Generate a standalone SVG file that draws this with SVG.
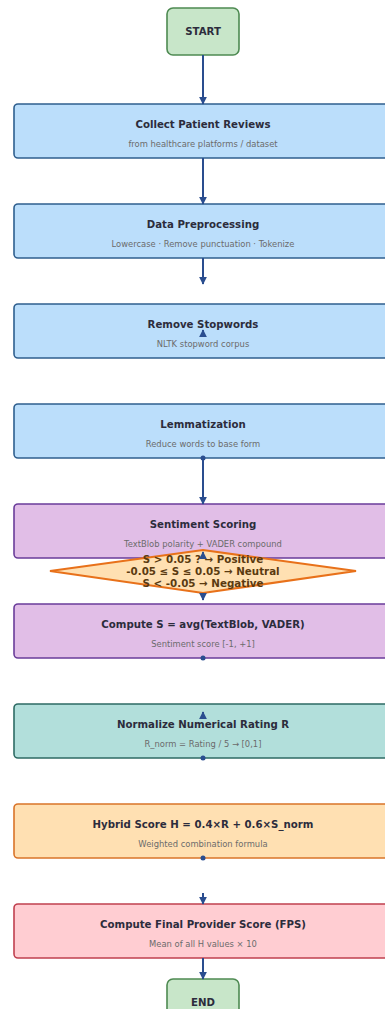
<svg xmlns="http://www.w3.org/2000/svg" width="385" height="1009" viewBox="0 0 385 1009">
<defs>
<style>
.t{font-family:"DejaVu Sans",sans-serif;font-weight:bold;font-size:10.2px;fill:#2c2c3c;text-anchor:middle}
.s{font-family:"DejaVu Sans",sans-serif;font-size:8.4px;fill:#6b6b6b;text-anchor:middle}
.d{font-family:"DejaVu Sans",sans-serif;font-weight:bold;font-size:10.3px;fill:#5a3a10;text-anchor:middle}
.blue{fill:#bbdefb;stroke:#2f5f8f;stroke-width:1.6}
.purple{fill:#e1bee7;stroke:#6a3d9a;stroke-width:1.6}
.teal{fill:#b2dfdb;stroke:#2e6b64;stroke-width:1.6}
.orange{fill:#ffe0b2;stroke:#d9742a;stroke-width:1.6}
.pink{fill:#ffcdd2;stroke:#c0404f;stroke-width:1.6}
.green{fill:#c8e6c9;stroke:#4e8a52;stroke-width:1.6}
.c{stroke:#2a4d8f;stroke-width:2;fill:none}
.dot{fill:#2a4d8f}
</style>
<marker id="ah" viewBox="0 0 10 10" refX="9" refY="5" markerWidth="4" markerHeight="4" orient="auto">
<path d="M0,0 L10,5 L0,10 z" fill="#2a4d8f"/>
</marker>
</defs>
<rect width="385" height="1009" fill="#ffffff"/>

<g id="start">
<rect class="green" x="167" y="8" width="72" height="47" rx="6"/>
<text class="t" x="203" y="35">START</text>
</g>
<g id="collect">
<rect class="blue" x="14" y="104" width="378" height="54" rx="4"/>
<text class="t" x="203" y="128">Collect Patient Reviews</text>
<text class="s" x="203" y="147">from healthcare platforms / dataset</text>
</g>
<g id="preprocess">
<rect class="blue" x="14" y="204" width="378" height="54" rx="4"/>
<text class="t" x="203" y="228">Data Preprocessing</text>
<text class="s" x="203" y="247">Lowercase · Remove punctuation · Tokenize</text>
</g>
<g id="stopwords">
<rect class="blue" x="14" y="304" width="378" height="54" rx="4"/>
<text class="t" x="203" y="328">Remove Stopwords</text>
<text class="s" x="203" y="347">NLTK stopword corpus</text>
</g>
<g id="lemma">
<rect class="blue" x="14" y="404" width="378" height="54" rx="4"/>
<text class="t" x="203" y="428">Lemmatization</text>
<text class="s" x="203" y="447">Reduce words to base form</text>
</g>
<g id="sentiment">
<rect class="purple" x="14" y="504" width="378" height="54" rx="4"/>
<text class="t" x="203" y="528">Sentiment Scoring</text>
<text class="s" x="203" y="547">TextBlob polarity + VADER compound</text>
</g>
<g id="computeS">
<rect class="purple" x="14" y="604" width="378" height="54" rx="4"/>
<text class="t" x="203" y="628">Compute S = avg(TextBlob, VADER)</text>
<text class="s" x="203" y="647">Sentiment score [-1, +1]</text>
</g>
<g id="normalize">
<rect class="teal" x="14" y="704" width="378" height="54" rx="4"/>
<text class="t" x="203" y="728">Normalize Numerical Rating R</text>
<text class="s" x="203" y="747">R_norm = Rating / 5  →  [0,1]</text>
</g>
<g id="hybrid">
<rect class="orange" x="14" y="804" width="378" height="54" rx="4"/>
<text class="t" x="203" y="828">Hybrid Score H = 0.4×R + 0.6×S_norm</text>
<text class="s" x="203" y="847">Weighted combination formula</text>
</g>
<g id="fps">
<rect class="pink" x="14" y="904" width="378" height="54" rx="4"/>
<text class="t" x="203" y="928">Compute Final Provider Score (FPS)</text>
<text class="s" x="203" y="947">Mean of all H values  ×  10</text>
</g>
<g id="end">
<rect class="green" x="167" y="979" width="72" height="47" rx="6"/>
<text class="t" x="203" y="1006">END</text>
</g>

<g id="decision">
<polygon points="50,571 203,550 356,571 203,593" fill="#ffe0b2" stroke="#e8711a" stroke-width="2.2"/>
<text class="d" x="203" y="563">S &gt; 0.05 ? → Positive</text>
<text class="d" x="203" y="575">-0.05 ≤ S ≤ 0.05 → Neutral</text>
<text class="d" x="203" y="587">S &lt; -0.05 → Negative</text>
</g>

<g id="connectors">
<line class="c" x1="203" y1="55" x2="203" y2="104" marker-end="url(#ah)"/>
<line class="c" x1="203" y1="158" x2="203" y2="204" marker-end="url(#ah)"/>
<line class="c" x1="203" y1="258" x2="203" y2="284" marker-end="url(#ah)"/>
<line class="c" x1="203" y1="337" x2="203" y2="330" marker-end="url(#ah)"/>
<circle class="dot" cx="203" cy="458" r="2.5"/>
<line class="c" x1="203" y1="458" x2="203" y2="504" marker-end="url(#ah)"/>
<line class="c" x1="203" y1="558" x2="203" y2="552" marker-end="url(#ah)"/>
<line class="c" x1="203" y1="593" x2="203" y2="600" marker-end="url(#ah)"/>
<circle class="dot" cx="203" cy="658" r="2.5"/>
<line class="c" x1="203" y1="718" x2="203" y2="712" marker-end="url(#ah)"/>
<circle class="dot" cx="203" cy="758" r="2.5"/>
<circle class="dot" cx="203" cy="858" r="2.5"/>
<line class="c" x1="203" y1="893" x2="203" y2="904" marker-end="url(#ah)"/>
<line class="c" x1="203" y1="958" x2="203" y2="979" marker-end="url(#ah)"/>
</g>
</svg>
